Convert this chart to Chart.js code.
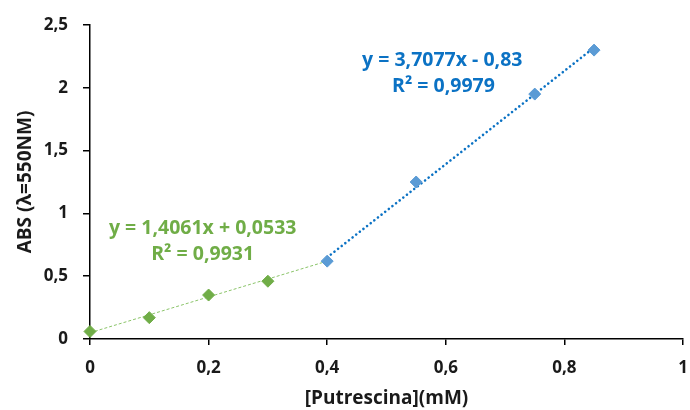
<!DOCTYPE html>
<html><head><meta charset="utf-8">
<script src="https://cdn.jsdelivr.net/npm/chart.js@4/dist/chart.umd.min.js"></script>
<style>html,body{margin:0;padding:0;background:#fff}#wrap{width:690px;height:410px}</style>
</head><body><div id="wrap"><canvas id="c" width="690" height="410"></canvas></div>
<script>
const greenX = [0, 0.1, 0.2, 0.3];
const greenY = [0.06, 0.17, 0.35, 0.46];
const blueX = [0.4, 0.55, 0.75, 0.85];
const blueY = [0.62, 1.25, 1.95, 2.30];
const greenTrendX = [0, 0.4];
const greenTrendY = [0.05, 0.62];
const blueTrendX = [0.4, 0.85];
const blueTrendY = [0.65, 2.32];
const xTicks = [0, 0.2, 0.4, 0.6, 0.8, 1];
const yTicks = [0, 0.5, 1, 1.5, 2, 2.5];
const labels = [
  {text: 'y = 3,7077x - 0,83', x: 0.594, y: 2.22, color: '#0B72C4'},
  {text: 'R² = 0,9979', x: 0.596, y: 2.01, color: '#0B72C4'},
  {text: 'y = 1,4061x + 0,0533', x: 0.19, y: 0.884, color: '#70AD47'},
  {text: 'R² = 0,9931', x: 0.19, y: 0.67, color: '#70AD47'}
];
const pts = (xs, ys) => xs.map((x, i) => ({x, y: ys[i]}));
const fmt = v => String(v).replace('.', ',');
const FONT = "'Open Sans', 'Liberation Sans', sans-serif";

const textPlugin = {
  id: 'eqText',
  afterDatasetsDraw(chart) {
    const {ctx, scales} = chart;
    ctx.save();
    ctx.font = 'bold 19.5px ' + FONT;
    ctx.textAlign = 'center';
    ctx.textBaseline = 'middle';
    labels.forEach(l => {
      ctx.fillStyle = l.color;
      ctx.fillText(l.text, scales.x.getPixelForValue(l.x), scales.y.getPixelForValue(l.y));
    });
    ctx.restore();
  }
};

new Chart(document.getElementById('c'), {
  type: 'scatter',
  data: {
    datasets: [
      {data: pts(greenTrendX, greenTrendY), showLine: true, borderColor: '#8BC46A', borderWidth: 1, borderDash: [3, 2], pointRadius: 0, order: 3, clip: false},
      {data: pts(blueTrendX, blueTrendY), showLine: true, borderColor: '#0B72C4', borderWidth: 2.6, borderDash: [0.01, 4.6], borderCapStyle: 'round', pointRadius: 0, order: 3, clip: false},
      {data: pts(greenX, greenY), pointStyle: 'rectRot', pointRadius: 6, pointBorderWidth: 1, pointBackgroundColor: '#70AD47', pointBorderColor: '#70AD47', order: 1, clip: false},
      {data: pts(blueX, blueY), pointStyle: 'rectRot', pointRadius: 6, pointBorderWidth: 1, pointBackgroundColor: '#5B9BD5', pointBorderColor: '#5B9BD5', order: 1, clip: false}
    ]
  },
  options: {
    responsive: false,
    animation: false,
    layout: {padding: {left: 0, right: 0, top: 25, bottom: 0}},
    plugins: {legend: {display: false}, tooltip: {enabled: false}},
    scales: {
      x: {
        type: 'linear', min: 0, max: 1,
        afterBuildTicks: s => { s.ticks = xTicks.map(v => ({value: v})); },
        afterFit: s => { s.height = 71; s.paddingRight = 5; s.paddingLeft = 0; },
        border: {color: '#000', width: 1.5},
        grid: {drawOnChartArea: false, color: '#000', tickLength: 6, lineWidth: 1.5},
        ticks: {color: '#1a1a1a', font: {family: FONT, size: 17, weight: 'bold'}, padding: 13, callback: v => fmt(v), maxRotation: 0},
        title: {display: true, text: '[Putrescina](mM)', color: '#1a1a1a', font: {family: FONT, size: 19, weight: 'bold'}, padding: {top: 0, bottom: 0}}
      },
      y: {
        type: 'linear', min: 0, max: 2.5,
        afterBuildTicks: s => { s.ticks = yTicks.map(v => ({value: v})); },
        afterFit: s => { s.width = 90; s.paddingTop = 0; s.paddingBottom = 0; },
        border: {color: '#000', width: 1.5},
        grid: {drawOnChartArea: false, color: '#000', tickLength: 7, lineWidth: 1.5},
        ticks: {color: '#1a1a1a', font: {family: FONT, size: 17, weight: 'bold'}, padding: 15, callback: v => fmt(v)},
        title: {display: true, text: 'ABS (λ=550NM)', color: '#1a1a1a', font: {family: FONT, size: 19, weight: 'bold'}, padding: {top: 14, bottom: 0}}
      }
    }
  },
  plugins: [textPlugin]
});
</script></body></html>
